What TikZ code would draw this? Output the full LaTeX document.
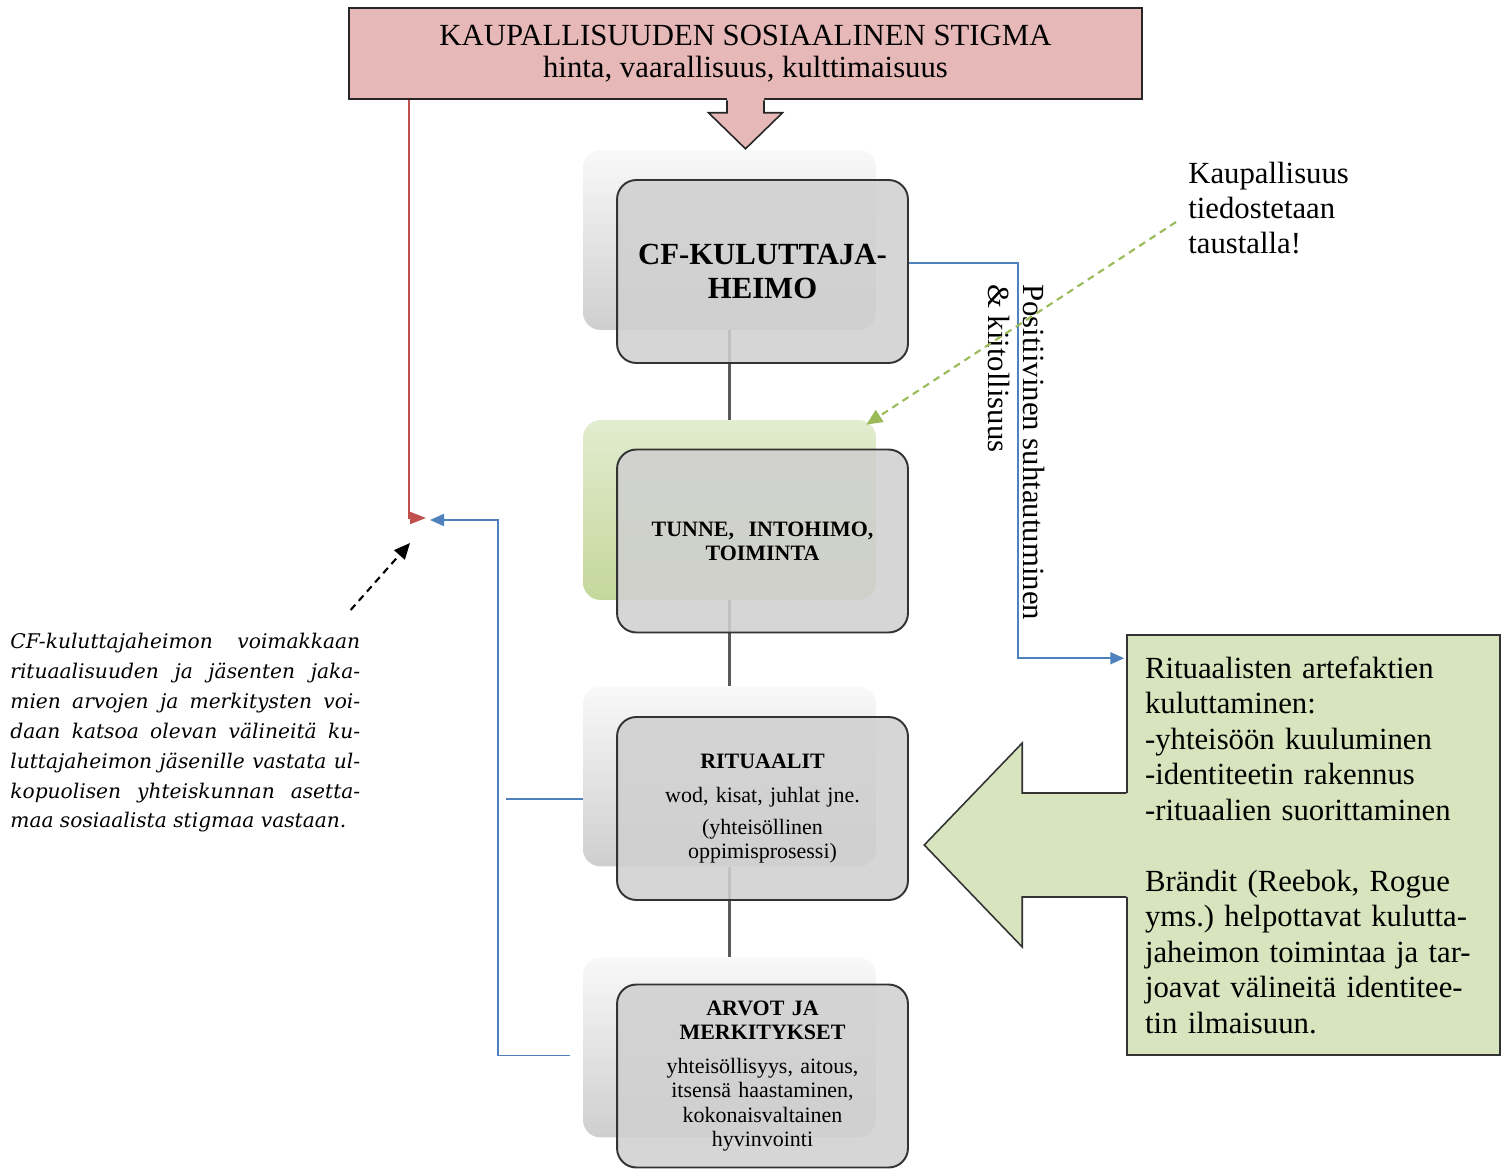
\documentclass[tikz,border=0pt]{standalone}
\usepackage{fontspec}
\setmainfont{Liberation Serif}
\newfontfamily\notefont{DejaVu Serif}
\definecolor{stpink}{RGB}{230,185,184}
\definecolor{stred}{RGB}{192,80,77}
\definecolor{stblue}{RGB}{79,129,189}
\definecolor{stgreen}{RGB}{215,228,189}
\definecolor{stgreenlt}{RGB}{226,236,207}
\definecolor{stgreenmd}{RGB}{196,215,155}
\definecolor{stgreendk}{RGB}{155,187,89}
\definecolor{stgray}{RGB}{208,208,208}
\definecolor{stline}{RGB}{90,90,90}
\usetikzlibrary{arrows.meta,positioning,calc}
\newcommand{\jline}[1]{\makebox[7cm][s]{#1}}
\tikzset{
  stigmabox/.style={draw=black!85, fill=stpink, line width=0.9pt,
                    minimum width=15.86cm, minimum height=1.82cm, align=center,
                    font=\fontsize{17.5}{18.5}\selectfont},
  backbox/.style={rounded corners=10pt, minimum width=5.86cm, minimum height=3.6cm,
                  top color=gray!5, bottom color=gray!38},
  frontbox/.style={draw=black!80, line width=1.1pt, rounded corners=11pt, fill=stgray,
                   fill opacity=0.88, text opacity=1, minimum width=5.82cm,
                   minimum height=3.66cm, text width=5.4cm, align=center},
  artefbox/.style={draw=black!80, fill=stgreen, line width=0.9pt, minimum width=7.46cm,
                   minimum height=8.4cm, text width=6.74cm, align=left,
                   font=\fontsize{17.5}{20.2}\selectfont\frenchspacing},
  notetext/.style={inner sep=0pt, align=left, font=\fontsize{17.5}{20}\selectfont},
  parabox/.style={inner sep=0pt, text width=7cm, align=justify,
                  font=\notefont\itshape\fontsize{11.5}{17}\selectfont},
  stemline/.style={draw=stline, line width=1.3pt},
  redline/.style={draw=stred, line width=1.1pt, -{Triangle[length=3.2mm,width=2.4mm]}},
  blueline/.style={draw=stblue, line width=1.1pt},
  bluetip/.style={-{Triangle[length=2.8mm,width=2.4mm]}},
  greendash/.style={draw=stgreendk, line width=1.2pt, dash pattern=on 4pt off 3pt,
                    -{Triangle[length=3.2mm,width=2.8mm]}},
  blackdash/.style={draw=black, line width=1.2pt, dash pattern=on 4pt off 3pt,
                    -{Triangle[length=3.2mm,width=2.8mm]}},
}
\begin{document}
\begin{tikzpicture}[x=0.02cm, y=-0.02cm]
\useasboundingbox (0,0) rectangle (1504,1169);
% stigma box with its down arrow
\node[stigmabox] (stigma) at (745.5,53.5) {KAUPALLISUUDEN SOSIAALINEN STIGMA\\hinta, vaarallisuus, kulttimaisuus};
\begin{scope}[shift={(stigma.south)}]
  \fill[stpink] (-18.5,-2) -- (-18.5,13) -- (-37,13) -- (0,49) -- (37,13) -- (18.5,13) -- (18.5,-2) -- cycle;
  \draw[black!85, line width=0.9pt] (-18.5,0.5) -- (-18.5,13) -- (-37,13) -- (0,49) -- (37,13) -- (18.5,13) -- (18.5,0.5);
\end{scope}
% shadow boxes behind
\node[backbox] (back1) at (729.5,240) {};
\node[backbox, top color=stgreenlt, bottom color=stgreenmd] (back2) at (729.5,510) {};
\node[backbox] (back3) at (729.5,776.5) {};
\node[backbox] (back4) at (729.5,1047.5) {};
\foreach \a/\b in {back1/back2, back2/back3, back3/back4}
  \draw[stemline] (\a.south) -- (\b.north);
% main boxes
\node[frontbox, font=\fontsize{17.5}{19}\selectfont\bfseries] (tribe) at (762.5,271.5) {CF-KULUTTAJA-\\HEIMO};
\node[frontbox, font=\fontsize{12.5}{13.7}\selectfont\bfseries] (passion) at (762.5,541) {TUNNE,\ \ INTOHIMO,\\TOIMINTA};
\node[frontbox, font=\fontsize{12.5}{14}\selectfont] (ritual) at (762.5,808.5) {\textbf{RITUAALIT}\\[5.5pt]wod, kisat, juhlat jne.\\[4pt](yhteisöllinen\\oppimisprosessi)};
\node[frontbox, font=\fontsize{12.5}{14}\selectfont] (values) at (762.5,1076) {\textbf{ARVOT JA}\\\textbf{MERKITYKSET}\\[5pt]yhteisöllisyys, aitous,\\itsensä haastaminen,\\kokonaisvaltainen\\hyvinvointi};
% artefacts box with big arrow
\node[artefbox] (artef) at (1313.5,845) {Rituaalisten artefaktien\\kuluttaminen:\\-yhteisöön kuuluminen\\-identiteetin rakennus\\-rituaalien suorittaminen\\[20.2pt]Brändit (Reebok, Rogue\\yms.) helpottavat kulutta-\\jaheimon toimintaa ja tar-\\joavat välineitä identitee-\\tin ilmaisuun.};
\begin{scope}[shift={(artef.west)}]
  \fill[stgreen] (2,-52) -- (-104,-52) -- (-104,-102) -- (-202,0) -- (-104,102) -- (-104,52) -- (2,52) -- cycle;
  \draw[black!80, line width=0.9pt] (0,-52) -- (-104,-52) -- (-104,-102) -- (-202,0) -- (-104,102) -- (-104,52) -- (0,52);
\end{scope}
% side texts
\node[notetext, anchor=north west] (aware) at (1188,162) {Kaupallisuus\\tiedostetaan\\taustalla!};
\node[notetext, rotate=-90, anchor=north west] (attitude) at (1045,284) {Positiivinen suhtautuminen\\\& kiitollisuus};
\node[parabox, anchor=north west] (why) at (10,633) {%
\jline{CF-kuluttajaheimon voimakkaan}\\
\jline{rituaalisuuden ja jäsenten jaka-}\\
\jline{mien arvojen ja merkitysten voi-}\\
\jline{daan katsoa olevan välineitä ku-}\\
\jline{luttajaheimon jäsenille vastata ul-}\\
\jline{kopuolisen yhteiskunnan asetta-}\\
maa sosiaalista stigmaa vastaan.};
% connectors
\coordinate (redtip) at (426,518);
\coordinate (bluetip) at (430,520);
\coordinate (gstart) at (1176,222);
\draw[redline] ($(stigma.south west)+(61,0)$) |- (redtip);
\draw[blueline, bluetip] ($(back4.west)+(-13,8)$) -- ++(-72,0) |- (bluetip);
\draw[blueline] ($(back3.west)+(0,22.5)$) -- ++(-77,0);
\draw[blueline, bluetip] ($(tribe.east)+(0,-8.5)$) -- ++(109,0) |- ($(artef.north west)+(-2,24)$);
\draw[greendash] (gstart) -- ($(back2.north east)+(-10,5)$);
\draw[blackdash] ($(why.north east)+(-10,-23)$) -- ($(redtip)+(-16,25)$);
\end{tikzpicture}
\end{document}
